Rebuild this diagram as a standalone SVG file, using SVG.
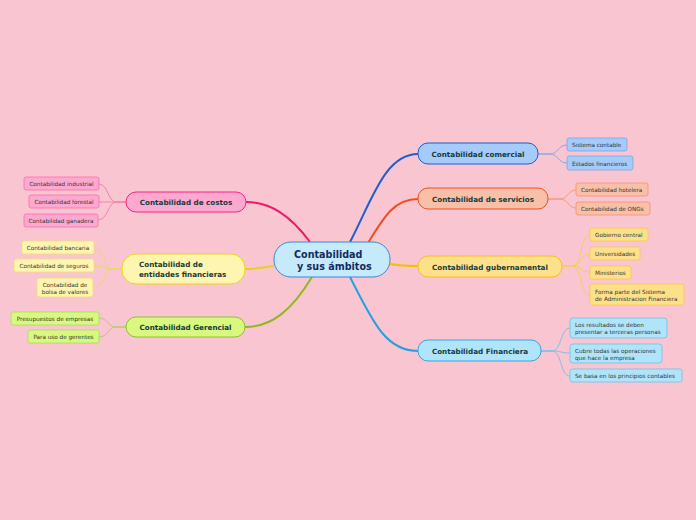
<svg xmlns="http://www.w3.org/2000/svg" width="696" height="520" viewBox="0 0 696 520">
<style>
text{font-family:"DejaVu Sans","Liberation Sans",sans-serif}
.m{font-size:7.2px;font-weight:bold;fill:#173a3a}
.c{font-size:5.7px;fill:#333333}
.l{fill:none}
</style>
<rect width="696" height="520" fill="#f9c5d0"/>
<g id="connectors" class="l">
<path d="M350 242 C372 200 385 154 418 154" stroke="#1a5fd0" stroke-width="2"/>
<path d="M368 243 C385 215 395 199 418 199" stroke="#f05020" stroke-width="2"/>
<path d="M390 264 C402 266 408 266 418 266" stroke="#f5c000" stroke-width="2"/>
<path d="M350 277 C372 320 385 351 418 351" stroke="#28a0e0" stroke-width="2"/>
<path d="M310 242 C290 215 270 202 246 202" stroke="#f0186a" stroke-width="2"/>
<path d="M274 266 C262 268 256 269 245 269" stroke="#e8d020" stroke-width="2"/>
<path d="M312 277 C292 310 272 327 245 327" stroke="#90b820" stroke-width="2"/>
<g stroke="#8aa8e8" stroke-width="1">
<path d="M538 154 H550 C558 154 558 145 567 145"/>
<path d="M538 154 H550 C558 154 558 163 567 163"/>
</g>
<g stroke="#f89878" stroke-width="1">
<path d="M548 199 H560 C568 199 568 190 576 190"/>
<path d="M548 199 H560 C568 199 568 208 576 208"/>
</g>
<g stroke="#f8cc60" stroke-width="1">
<path d="M562 266 H572 C582 266 580 235 590 235"/>
<path d="M562 266 H572 C582 266 580 254 590 254"/>
<path d="M562 266 H572 C582 266 580 272 590 272"/>
<path d="M562 266 H572 C582 266 580 295 590 295"/>
</g>
<g stroke="#80c0e8" stroke-width="1">
<path d="M541 351 H552 C562 351 560 328 570 328"/>
<path d="M541 351 H552 C562 351 560 353 570 353"/>
<path d="M541 351 H552 C562 351 560 376 570 376"/>
</g>
<g stroke="#f880b0" stroke-width="1">
<path d="M126 202 H116 C108 202 108 184 99 184"/>
<path d="M126 202 H99"/>
<path d="M126 202 H116 C108 202 108 220 98 220"/>
</g>
<g stroke="#e8d870" stroke-width="1">
<path d="M122 269 H112 C104 269 104 247 94 247"/>
<path d="M122 269 H112 C104 269 104 266 94 266"/>
<path d="M122 269 H112 C104 269 104 288 93 288"/>
</g>
<g stroke="#b8c870" stroke-width="1">
<path d="M126 327 H116 C108 327 108 318 99 318"/>
<path d="M126 327 H116 C108 327 108 337 99 337"/>
</g>
</g>
<g id="central">
<rect x="274" y="242" width="116" height="35" rx="17" fill="#c4eafc" stroke="#3a8ad0" stroke-width="1"/>
<text x="294" y="258" style="font-size:9.6px;font-weight:bold;fill:#142a60">Contabilidad</text>
<text x="297" y="270" style="font-size:9.6px;font-weight:bold;fill:#142a60">y sus ámbitos</text>
</g>
<g id="comercial">
<rect x="418" y="143" width="120" height="21" rx="10" fill="#a4cbfa" stroke="#1a5fd0"/>
<text x="478" y="156.5" class="m" text-anchor="middle">Contabilidad comercial</text>
</g>
<g id="sistema"><rect x="567" y="138" width="60" height="13" rx="2" fill="#a4cbfa" stroke="#7aa4e8" stroke-width="0.8"/><text x="572" y="147" class="c">Sistema contable</text></g>
<g id="estados"><rect x="567" y="156" width="66" height="14" rx="2" fill="#a4cbfa" stroke="#7aa4e8" stroke-width="0.8"/><text x="572" y="165.5" class="c">Estados financieros</text></g>
<g id="servicios">
<rect x="418" y="188" width="130" height="21" rx="10" fill="#f8c0a8" stroke="#f05020"/>
<text x="483" y="201.5" class="m" text-anchor="middle">Contabilidad de servicios</text>
</g>
<g id="hotelera"><rect x="576" y="183" width="72" height="13" rx="2" fill="#f8c0a8" stroke="#f89070" stroke-width="0.8"/><text x="581" y="192" class="c">Contabilidad hotelera</text></g>
<g id="ongs"><rect x="576" y="202" width="74" height="13" rx="2" fill="#f8c0a8" stroke="#f89070" stroke-width="0.8"/><text x="581" y="211" class="c">Contabilidad de ONGs</text></g>
<g id="gubernamental">
<rect x="418" y="256" width="144" height="21" rx="10" fill="#fde08a" stroke="#f5c020"/>
<text x="490" y="269.5" class="m" text-anchor="middle">Contabilidad gubernamental</text>
</g>
<g id="gobierno"><rect x="590" y="228" width="58" height="13" rx="2" fill="#fde08a" stroke="#f8c850" stroke-width="0.8"/><text x="595" y="237" class="c">Gobierno central</text></g>
<g id="universidades"><rect x="590" y="247" width="50" height="13" rx="2" fill="#fde08a" stroke="#f8c850" stroke-width="0.8"/><text x="595" y="256" class="c">Universidades</text></g>
<g id="ministerios"><rect x="590" y="266" width="41" height="13" rx="2" fill="#fde08a" stroke="#f8c850" stroke-width="0.8"/><text x="595" y="275" class="c">Ministerios</text></g>
<g id="forma"><rect x="590" y="284" width="94" height="21" rx="3" fill="#fde08a" stroke="#f8c850" stroke-width="0.8"/><text x="595" y="293.5" class="c">Forma parte del Sistema</text><text x="595" y="301" class="c">de Administracion Financiera</text></g>
<g id="financiera">
<rect x="418" y="340" width="123" height="21" rx="10" fill="#b0e4fa" stroke="#30a8e0"/>
<text x="480" y="353.5" class="m" text-anchor="middle">Contabilidad Financiera</text>
</g>
<g id="resultados"><rect x="570" y="318" width="97" height="20" rx="3" fill="#b0e4fa" stroke="#70c0e8" stroke-width="0.8"/><text x="575" y="327" class="c">Los resultados se deben</text><text x="575" y="334" class="c">presentar a terceras personas</text></g>
<g id="cubre"><rect x="570" y="344" width="92" height="19" rx="3" fill="#b0e4fa" stroke="#70c0e8" stroke-width="0.8"/><text x="575" y="353" class="c">Cubre todas las operaciones</text><text x="575" y="360" class="c"> que hace la empresa</text></g>
<g id="principios"><rect x="570" y="369" width="112" height="13" rx="2" fill="#b0e4fa" stroke="#70c0e8" stroke-width="0.8"/><text x="575" y="378" class="c">Se basa en los principios contables</text></g>
<g id="costos">
<rect x="126" y="192" width="120" height="20" rx="10" fill="#fca8d0" stroke="#f0287a"/>
<text x="186" y="205" class="m" text-anchor="middle">Contabilidad de costos</text>
</g>
<g id="industrial"><rect x="24" y="177" width="75" height="13" rx="2" fill="#fca8d0" stroke="#f870a8" stroke-width="0.8"/><text x="61.5" y="186" class="c" text-anchor="middle">Contabilidad industrial</text></g>
<g id="forestal"><rect x="29" y="195" width="70" height="13" rx="2" fill="#fca8d0" stroke="#f870a8" stroke-width="0.8"/><text x="64" y="204" class="c" text-anchor="middle">Contabilidad forestal</text></g>
<g id="ganadera"><rect x="24" y="214" width="74" height="13" rx="2" fill="#fca8d0" stroke="#f870a8" stroke-width="0.8"/><text x="61" y="223" class="c" text-anchor="middle">Contabilidad ganadera</text></g>
<g id="entidades">
<rect x="122" y="254" width="123" height="30" rx="14" fill="#fef6b0" stroke="#f0d020"/>
<text x="139" y="267" class="m">Contabilidad de</text>
<text x="139" y="277" class="m">entidades financieras</text>
</g>
<g id="bancaria"><rect x="22" y="241" width="72" height="13" rx="2" fill="#fef6b0" stroke="#f0e070" stroke-width="0.8"/><text x="58" y="250" class="c" text-anchor="middle">Contabilidad bancaria</text></g>
<g id="seguros"><rect x="14" y="259" width="80" height="13" rx="2" fill="#fef6b0" stroke="#f0e070" stroke-width="0.8"/><text x="54" y="268" class="c" text-anchor="middle">Contabilidad de seguros</text></g>
<g id="bolsa"><rect x="37" y="278" width="56" height="19" rx="3" fill="#fef6b0" stroke="#f0e070" stroke-width="0.8"/><text x="65" y="287" class="c" text-anchor="middle">Contabilidad de</text><text x="65" y="294" class="c" text-anchor="middle">bolsa de valores</text></g>
<g id="gerencial">
<rect x="126" y="317" width="119" height="20" rx="10" fill="#d8f880" stroke="#90c030"/>
<text x="185.5" y="330" class="m" text-anchor="middle">Contabilidad Gerencial</text>
</g>
<g id="presupuestos"><rect x="11" y="312" width="88" height="13" rx="2" fill="#d8f880" stroke="#b0d860" stroke-width="0.8"/><text x="55" y="321" class="c" text-anchor="middle">Presupuestos de empresas</text></g>
<g id="gerentes"><rect x="28" y="330" width="71" height="13" rx="2" fill="#d8f880" stroke="#b0d860" stroke-width="0.8"/><text x="63.5" y="339" class="c" text-anchor="middle">Para uso de gerentes</text></g>
</svg>
